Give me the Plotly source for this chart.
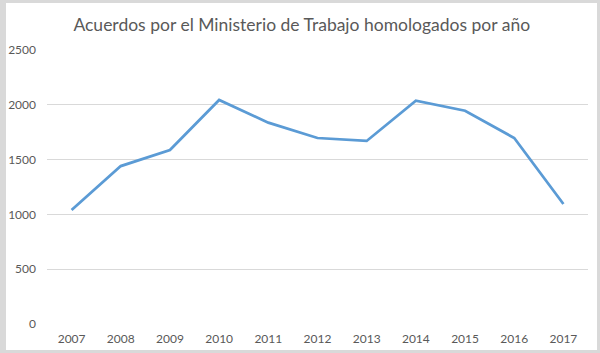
import plotly.graph_objects as go

years = ["2007", "2008", "2009", "2010", "2011", "2012", "2013", "2014", "2015", "2016", "2017"]
acuerdos = [1040, 1441, 1588, 2044, 1837, 1697, 1670, 2037, 1946, 1697, 1095]
y_ticks = [0, 500, 1000, 1500, 2000, 2500]
title = "Acuerdos por el Ministerio de Trabajo homologados por año"

W, H = 600, 353
ml, mr, mt, mb = 47, 12, 50, 29
pw = W - ml - mr
ph = H - mt - mb

def px_x(x):
    return (x - ml) / pw

def px_y(y):
    return (H - mb - y) / ph

fig = go.Figure()
fig.add_trace(go.Scatter(
    x=years, y=acuerdos, mode="lines",
    line=dict(color="#5B9BD5", width=2.75),
    hoverinfo="x+y",
))

fig.add_shape(type="rect", xref="paper", yref="paper",
              x0=px_x(6), x1=px_x(597), y0=px_y(350), y1=px_y(3),
              fillcolor="white", line=dict(width=0), layer="below")

fig.update_layout(
    width=W, height=H,
    margin=dict(l=ml, r=mr, t=mt, b=mb, autoexpand=False),
    paper_bgcolor="#d9d9d9",
    plot_bgcolor="white",
    showlegend=False,
    title=dict(text=title, x=0.503, xanchor="center", y=1 - 25/H, yanchor="middle",
               font=dict(family="Lato, Liberation Sans, sans-serif", size=17.5, color="#595959")),
    font=dict(family="Lato, Liberation Sans, sans-serif", size=12, color="#595959"),
    xaxis=dict(type="category", range=[-0.5, 10.5], showgrid=False, zeroline=False,
               showline=False, ticks="", tickfont=dict(size=12, color="#595959"),
               ticklabelstandoff=6, automargin=False),
    yaxis=dict(range=[0, 2500], tickvals=y_ticks, showgrid=True, gridcolor="#d9d9d9",
               gridwidth=1, zeroline=False, showline=False, ticks="",
               tickfont=dict(size=12, color="#595959"), ticklabelstandoff=10,
               automargin=False),
)

fig.write_html("out.html")
